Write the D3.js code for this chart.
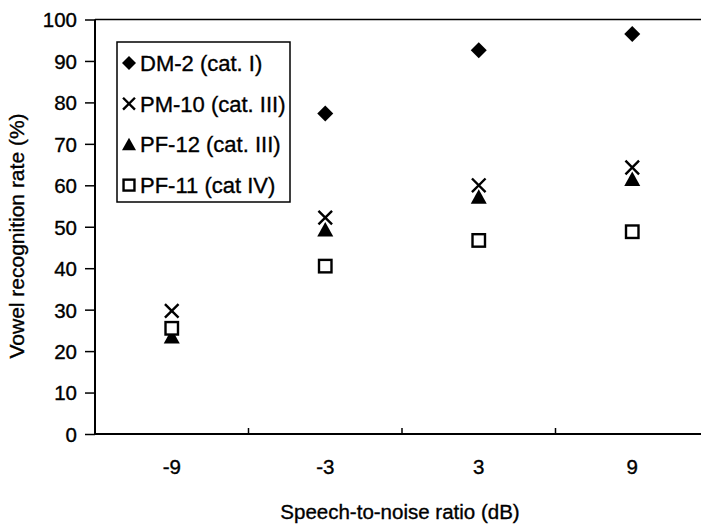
<!DOCTYPE html>
<meta charset="utf-8">
<title>Vowel recognition rate</title>
<style>
body { margin: 0; background: #fff; }
svg { display: block; }
text { font-family: "Liberation Sans", Arial, sans-serif; fill: #000; stroke: #000; stroke-width: 0.35px; }
.axis text { font-size: 20.5px; }
.axis line, .axis path { stroke: #000; stroke-width: 1.5px; }
.legend text { font-size: 22px; }
</style>
<svg width="701" height="525"></svg>
<script src="https://cdn.jsdelivr.net/npm/d3@7"></script>
<script>

var snr = ["-9", "-3", "3", "9"];
var yTicks = [0, 10, 20, 30, 40, 50, 60, 70, 80, 90, 100];

var dm2 = [null, 77.3, 92.6, 96.5];
var pm10 = [29.7, 52.2, 60.0, 64.3];
var pf12 = [23.5, 49.3, 57.2, 61.5];
var pf11 = [25.5, 40.5, 46.7, 48.8];

var seriesNames = ["DM-2 (cat. I)", "PM-10 (cat. III)", "PF-12 (cat. III)", "PF-11 (cat IV)"];
var seriesShapes = ["diamond", "cross", "triangle", "square"];

var series = [dm2, pm10, pf12, pf11].map(function(values, i) {
  return { name: seriesNames[i], shape: seriesShapes[i], values: values };
});

var svg = d3.select("svg"),
    width = +svg.attr("width"),
    height = +svg.attr("height");

var plotLeft = 95, plotTop = 19.5, plotBottom = 434;

var x = d3.scaleBand().domain(snr).range([plotLeft, 709]);
var y = d3.scaleLinear().domain([0, 100]).range([plotBottom, plotTop]);

function marker(sel, shape, s) {
  if (shape === "diamond") {
    sel.append("path")
        .attr("d", "M0," + -s + "L" + s + ",0L0," + s + "L" + -s + ",0Z")
        .attr("fill", "#000");
  } else if (shape === "cross") {
    var c = s * 0.85;
    sel.append("path")
        .attr("d", "M" + -c + "," + -c + "L" + c + "," + c + "M" + c + "," + -c + "L" + -c + "," + c)
        .attr("stroke", "#000")
        .attr("stroke-width", 2.4)
        .attr("fill", "none");
  } else if (shape === "triangle") {
    sel.append("path")
        .attr("d", "M0," + (-s * 0.95) + "L" + s + "," + (s * 0.85) + "L" + -s + "," + (s * 0.85) + "Z")
        .attr("fill", "#000");
  } else {
    var h = s * 0.78;
    sel.append("rect")
        .attr("x", -h).attr("y", -h)
        .attr("width", 2 * h).attr("height", 2 * h)
        .attr("fill", "#fff")
        .attr("stroke", "#000")
        .attr("stroke-width", 2.4);
  }
}

// frame line on top
svg.append("line")
    .attr("x1", plotLeft).attr("x2", width)
    .attr("y1", plotTop).attr("y2", plotTop)
    .attr("stroke", "#000").attr("stroke-width", 1.5);

// y axis
var yAxis = svg.append("g")
    .attr("class", "axis")
    .attr("transform", "translate(" + plotLeft + ",0)")
    .call(d3.axisLeft(y).tickValues(yTicks).tickSize(10).tickPadding(8));
yAxis.select(".domain").remove();
yAxis.selectAll("text").attr("dy", "0.36em");

svg.append("line")
    .attr("x1", plotLeft).attr("x2", plotLeft)
    .attr("y1", plotTop).attr("y2", plotBottom)
    .attr("stroke", "#000").attr("stroke-width", 2);

// x axis
svg.append("line")
    .attr("x1", plotLeft).attr("x2", width)
    .attr("y1", plotBottom).attr("y2", plotBottom)
    .attr("stroke", "#000").attr("stroke-width", 2);

svg.append("g")
  .selectAll("line")
    .data(snr.slice(1))
  .enter().append("line")
    .attr("x1", function(d) { return x(d); })
    .attr("x2", function(d) { return x(d); })
    .attr("y1", plotBottom)
    .attr("y2", plotBottom - 6)
    .attr("stroke", "#000")
    .attr("stroke-width", 1.5);

svg.append("g")
    .attr("class", "axis")
  .selectAll("text")
    .data(snr)
  .enter().append("text")
    .attr("x", function(d) { return x(d) + x.bandwidth() / 2; })
    .attr("y", 474)
    .attr("text-anchor", "middle")
    .text(function(d) { return d; });

// axis titles
svg.append("text")
    .attr("x", 400)
    .attr("y", 519)
    .attr("text-anchor", "middle")
    .style("font-size", "20.5px")
    .text("Speech-to-noise ratio (dB)");

svg.append("text")
    .attr("transform", "translate(24,236) rotate(-90)")
    .attr("text-anchor", "middle")
    .style("font-size", "21px")
    .text("Vowel recognition rate (%)");

// points
series.forEach(function(s) {
  svg.append("g")
    .selectAll("g")
      .data(s.values.map(function(v, i) { return { cat: snr[i], v: v }; })
        .filter(function(d) { return d.v != null; }))
    .enter().append("g")
      .attr("transform", function(d) {
        return "translate(" + (x(d.cat) + x.bandwidth() / 2) + "," + y(d.v) + ")";
      })
      .each(function() { marker(d3.select(this), s.shape, 8); });
});

// legend
var legend = svg.append("g").attr("class", "legend");
legend.append("rect")
    .attr("x", 117).attr("y", 42)
    .attr("width", 173).attr("height", 160)
    .attr("fill", "#fff")
    .attr("stroke", "#000")
    .attr("stroke-width", 1.5);

var item = legend.selectAll(".item")
    .data(series)
  .enter().append("g")
    .attr("class", "item")
    .attr("transform", function(d, i) { return "translate(129," + (63 + i * 40.7) + ")"; });

item.each(function(d) { marker(d3.select(this), d.shape, 7); });

item.append("text")
    .attr("x", 11)
    .attr("dy", "0.36em")
    .text(function(d) { return d.name; });

</script>
